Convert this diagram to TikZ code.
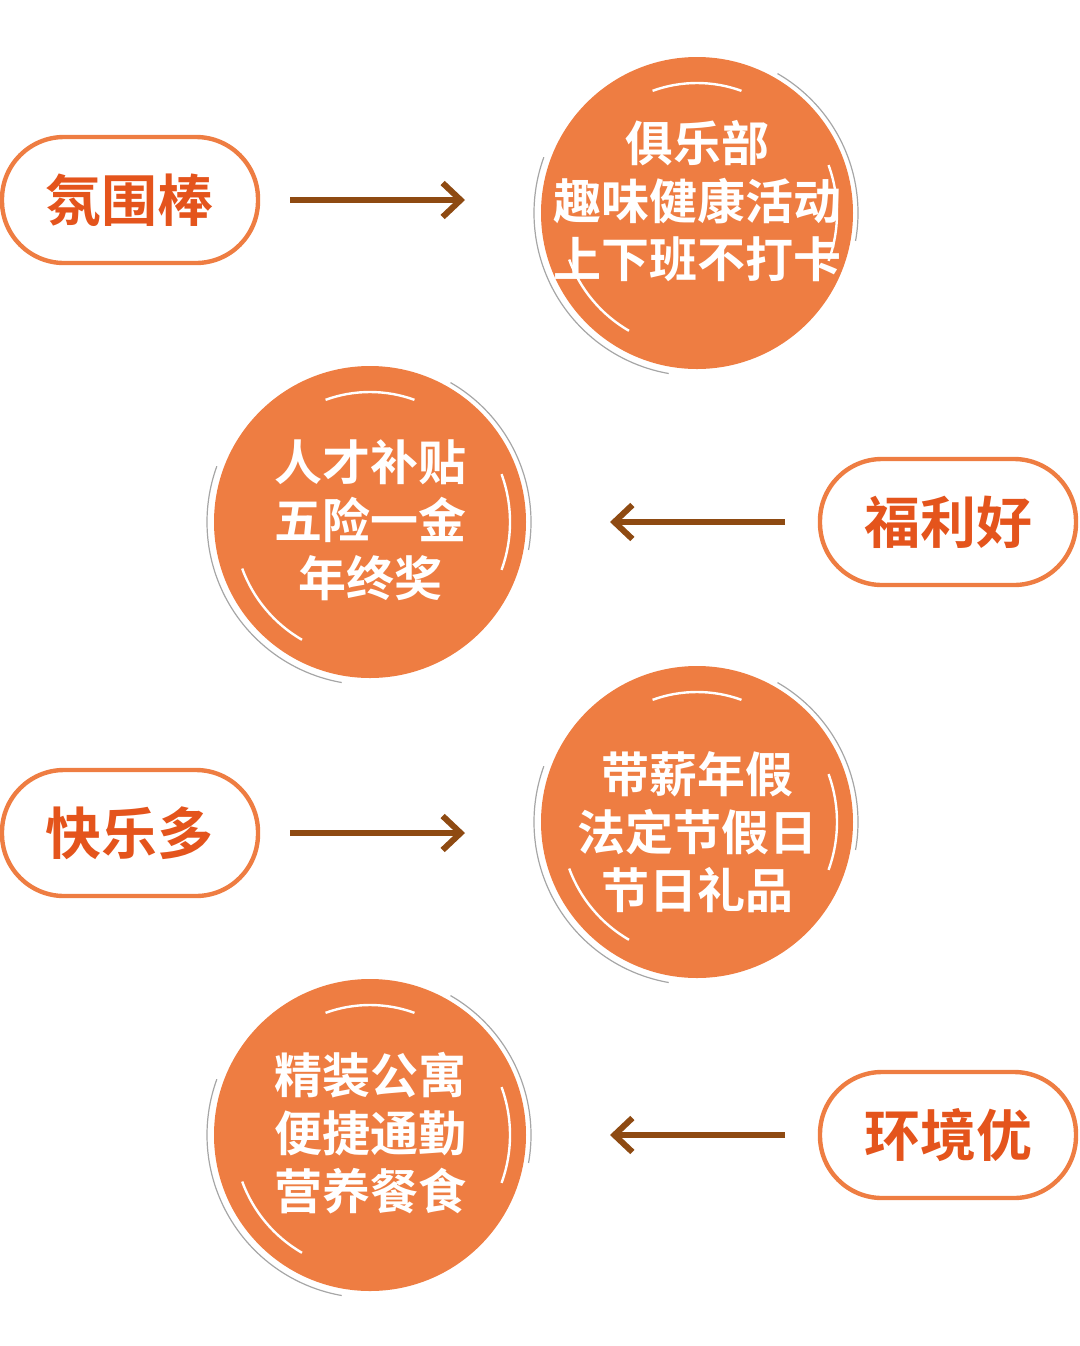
\documentclass[tikz,border=0pt]{standalone}
\usepackage{fontspec}
\newfontfamily\cjk{Noto Sans CJK SC}[BoldFont={Noto Sans CJK SC Bold}]
\usetikzlibrary{arrows.meta}
\definecolor{orng}{HTML}{EE7D42}
\definecolor{pilltxt}{HTML}{E4541C}
\definecolor{brn}{HTML}{8E4A12}
\begin{document}
\begin{tikzpicture}[x=0.5pt,y=-0.5pt,
  pill/.style={draw=orng,line width=2.2pt,rounded corners=31pt,minimum width=128pt,minimum height=63pt,font=\cjk\bfseries\fontsize{28}{32}\selectfont,text=pilltxt},
  ball/.style={circle,fill=orng,minimum size=156pt,inner sep=0pt},
  btxt/.style={align=center,text=white,font=\cjk\bfseries\fontsize{24}{29}\selectfont},
  arr/.style={draw=brn,line width=3pt,-{Straight Barb[length=9pt,width=17pt,line width=3pt]}},
  swoosh/.style={white,line width=1.2pt},
  rim/.style={gray!70,line width=0.6pt}]
\useasboundingbox (0,0) rectangle (1080,1346);
\node[pill] (p1) at (130,200) {氛围棒};
\node[pill] (p2) at (948,522) {福利好};
\node[pill] (p3) at (130,833) {快乐多};
\node[pill] (p4) at (948,1135) {环境优};
\node[ball] (c1) at (697,213) {};
\node[ball] (c2) at (370,522) {};
\node[ball] (c3) at (697,822) {};
\node[ball] (c4) at (370,1135) {};
\foreach \c in {c1,c2,c3,c4}{
  \draw[swoosh] (\c) ++(120:136) arc[start angle=120,end angle=160,radius=136];
  \draw[swoosh] (\c) ++(250:130) arc[start angle=250,end angle=290,radius=130];
  \draw[swoosh] (\c) ++(20:140) arc[start angle=20,end angle=-20,radius=140];
  \draw[rim] (\c) ++(100:163) arc[start angle=100,end angle=200,radius=163];
  \draw[rim] (\c) ++(-60:161) arc[start angle=-60,end angle=10,radius=161];
}
\node[btxt] (t1) at (697,201) {俱乐部\\趣味健康活动\\上下班不打卡};
\node[btxt] (t2) at (370,520) {人才补贴\\五险一金\\年终奖};
\node[btxt] (t3) at (697,832) {带薪年假\\法定节假日\\节日礼品};
\node[btxt] (t4) at (370,1133) {精装公寓\\便捷通勤\\营养餐食};
\coordinate (a1s) at (290,200); \coordinate (a1e) at (465,200);
\coordinate (a2s) at (785,522); \coordinate (a2e) at (610,522);
\coordinate (a3s) at (290,833); \coordinate (a3e) at (465,833);
\coordinate (a4s) at (785,1135); \coordinate (a4e) at (610,1135);
\foreach \i in {1,2,3,4}{\draw[arr] (a\i s) -- (a\i e);}
\end{tikzpicture}
\end{document}
